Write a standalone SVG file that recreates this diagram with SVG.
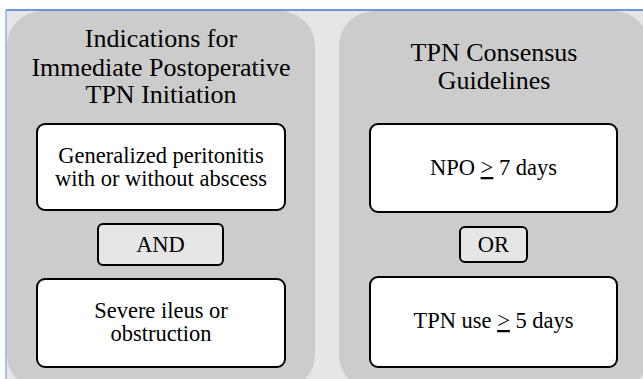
<svg xmlns="http://www.w3.org/2000/svg" width="643" height="379" viewBox="0 0 643 379">
<style>
.t{font-size:26px;text-anchor:middle;fill:#000}
.b{font-size:22.5px;text-anchor:middle;fill:#000}
.panel{fill:#cccccc}
.box{fill:#ffffff;stroke:#000;stroke-width:2}
.op{fill:#e6e6e6;stroke:#000;stroke-width:2}
.u{text-decoration:underline}
</style>
<rect x="0" y="0" width="643" height="379" fill="#ffffff"/>
<rect x="6" y="10" width="637" height="369" fill="#e6e6e6"/>
<line x1="6" y1="10" x2="643" y2="10" stroke="#3c78d8" stroke-width="1.5"/>
<line x1="6" y1="10" x2="6" y2="379" stroke="#8fb0e6" stroke-width="1.5"/>
<g font-family="Liberation Serif, Times New Roman, Tinos, Noto Serif, DejaVu Serif, serif">
<g id="left-panel">
<rect class="panel" x="7" y="11" width="308" height="379" rx="35"/>
<text class="t" x="161" y="47">Indications for</text>
<text class="t" x="161" y="76">Immediate Postoperative</text>
<text class="t" x="161" y="103">TPN Initiation</text>
</g>
<g id="right-panel">
<rect class="panel" x="339" y="11" width="310" height="379" rx="35"/>
<text class="t" x="494" y="61">TPN Consensus</text>
<text class="t" x="494" y="89">Guidelines</text>
</g>
<g id="peritonitis">
<rect class="box" x="37" y="124" width="248" height="86" rx="8"/>
<text class="b" x="161" y="163">Generalized peritonitis</text>
<text class="b" x="161" y="186">with or without abscess</text>
</g>
<g id="and">
<rect class="op" x="98" y="224" width="125" height="41" rx="5"/>
<text class="b" x="160.5" y="252">AND</text>
</g>
<g id="ileus">
<rect class="box" x="37" y="279" width="248" height="88" rx="8"/>
<text class="b" x="161" y="318">Severe ileus or</text>
<text class="b" x="161" y="341">obstruction</text>
</g>
<g id="npo">
<rect class="box" x="370" y="124" width="247" height="88" rx="8"/>
<text class="b" x="493.5" y="175">NPO <tspan class="u">&gt;</tspan> 7 days</text>
</g>
<g id="or">
<rect class="op" x="460" y="227" width="67" height="35" rx="5"/>
<text class="b" x="493.5" y="252">OR</text>
</g>
<g id="tpnuse">
<rect class="box" x="370" y="277" width="247" height="90" rx="8"/>
<text class="b" x="493.5" y="328">TPN use <tspan class="u">&gt;</tspan> 5 days</text>
</g>
</g>
<g id="connectors"></g>
</svg>
